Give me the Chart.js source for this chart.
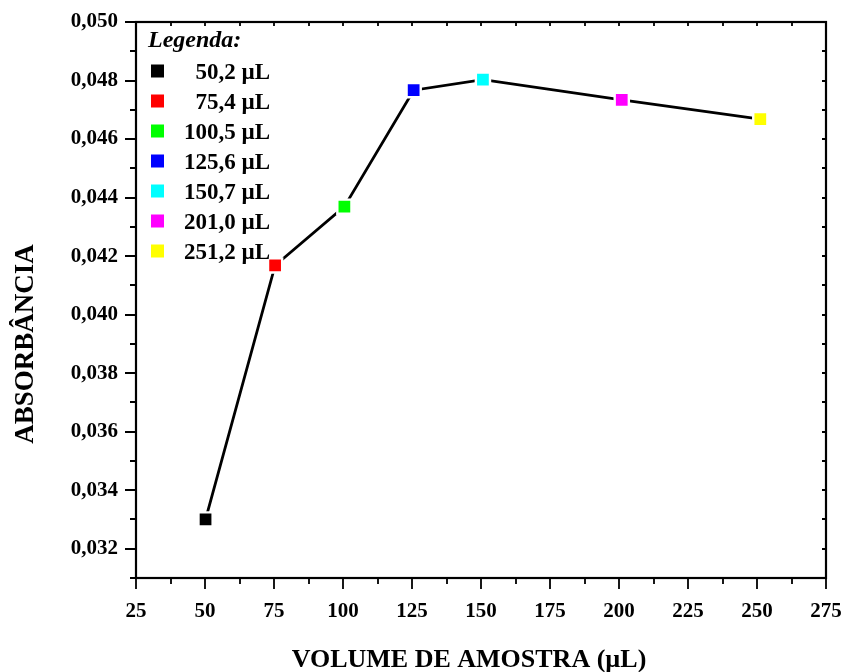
<!DOCTYPE html>
<html><head><meta charset="utf-8">
<script src="https://cdn.jsdelivr.net/npm/chart.js@4"></script>
<style>html,body{margin:0;padding:0;background:#fff;}</style>
</head><body>
<canvas id="c" width="846" height="672"></canvas>
<script>
// ---- data ----
const volumes = [50.2, 75.4, 100.5, 125.6, 150.7, 201.0, 251.2];
const absorbance = [0.0330, 0.04168, 0.04369, 0.04767, 0.04803, 0.04734, 0.04668];
const legendLabels = ['50,2 µL', '75,4 µL', '100,5 µL', '125,6 µL', '150,7 µL', '201,0 µL', '251,2 µL'];
const pointColors = ['#000000', '#ff0000', '#00ff00', '#0000ff', '#00ffff', '#ff00ff', '#ffff00'];
const xMajorTicks = [25, 50, 75, 100, 125, 150, 175, 200, 225, 250, 275];
const yMajorTicks = [0.032, 0.034, 0.036, 0.038, 0.040, 0.042, 0.044, 0.046, 0.048, 0.050];
const xTitle = 'VOLUME DE AMOSTRA (µL)';
const yTitle = 'ABSORBÂNCIA';
const legendTitle = 'Legenda:';

const FONT = '"Liberation Serif", "Times New Roman", serif';

const decor = {
  id: 'decor',
  afterDraw(chart) {
    const { ctx, chartArea: a, scales: { x, y } } = chart;
    ctx.save();
    // frame
    ctx.strokeStyle = '#000';
    ctx.lineWidth = 2.2;
    ctx.strokeRect(a.left, a.top, a.right - a.left, a.bottom - a.top);
    // ticks (major + minor midpoints)
    ctx.lineWidth = 1.8;
    ctx.beginPath();
    const xs = [];
    xMajorTicks.forEach((v, i) => {
      xs.push([v, true]);
      if (i < xMajorTicks.length - 1) xs.push([(v + xMajorTicks[i + 1]) / 2, false]);
    });
    xs.forEach(([v, major]) => {
      const px = Math.round(x.getPixelForValue(v));
      ctx.moveTo(px, a.bottom); ctx.lineTo(px, a.bottom + (major ? 11 : 6));
      ctx.moveTo(px, a.top); ctx.lineTo(px, a.top + 4);
    });
    const ys = [[y.min, false]];
    yMajorTicks.forEach((v, i) => {
      ys.push([v, true]);
      if (i < yMajorTicks.length - 1) ys.push([(v + yMajorTicks[i + 1]) / 2, false]);
    });
    ys.forEach(([v, major]) => {
      const py = Math.round(y.getPixelForValue(v));
      ctx.moveTo(a.left, py); ctx.lineTo(a.left - (major ? 11 : 6), py);
      ctx.moveTo(a.right, py); ctx.lineTo(a.right - 4, py);
    });
    ctx.stroke();

    // legend
    ctx.fillStyle = '#000';
    ctx.font = 'italic bold 24px ' + FONT;
    ctx.textAlign = 'left';
    ctx.textBaseline = 'alphabetic';
    ctx.fillText(legendTitle, 148, 47);
    ctx.font = 'bold 23px ' + FONT;
    ctx.textAlign = 'right';
    legendLabels.forEach((lab, i) => {
      const cy = 71 + 30 * i;
      ctx.fillStyle = pointColors[i];
      ctx.fillRect(151, cy - 6.5, 13, 13);
      ctx.fillStyle = '#000';
      ctx.fillText(lab, 270, cy + 7.5);
    });

    // axis titles
    ctx.font = 'bold 26px ' + FONT;
    ctx.textAlign = 'center';
    ctx.fillText(xTitle, 469, 667);
    ctx.save();
    ctx.translate(33, 344);
    ctx.rotate(-Math.PI / 2);
    ctx.font = 'bold 27px ' + FONT;
    ctx.fillText(yTitle, 0, 0);
    ctx.restore();
    ctx.restore();
  }
};

new Chart(document.getElementById('c'), {
  type: 'line',
  data: {
    datasets: [{
      data: volumes.map((v, i) => ({ x: v, y: absorbance[i] })),
      borderColor: '#000',
      borderWidth: 2.8,
      tension: 0,
      fill: false,
      pointStyle: 'rect',
      pointRadius: 10,
      pointBackgroundColor: pointColors,
      pointBorderColor: '#ffffff',
      pointBorderWidth: 2.4
    }]
  },
  options: {
    responsive: false,
    animation: false,
    devicePixelRatio: 1,
    layout: { padding: { top: 22, right: 20, left: 0, bottom: 0 } },
    plugins: { legend: { display: false }, tooltip: { enabled: false } },
    scales: {
      x: {
        type: 'linear', min: 25, max: 275,
        afterBuildTicks: s => { s.ticks = xMajorTicks.map(v => ({ value: v })); },
        afterFit: s => { s.height = 94; s.paddingLeft = 0; s.paddingRight = 0; },
        grid: { display: false, drawTicks: false },
        border: { display: false },
        ticks: {
          padding: 21, color: '#000', maxRotation: 0, autoSkip: false,
          font: { family: FONT, size: 21, weight: 'bold' },
          callback: v => String(v)
        }
      },
      y: {
        type: 'linear', min: 0.031, max: 0.050,
        afterBuildTicks: s => { s.ticks = yMajorTicks.map(v => ({ value: v })); },
        afterFit: s => { s.width = 136; s.paddingTop = 0; s.paddingBottom = 0; },
        grid: { display: false, drawTicks: false },
        border: { display: false },
        ticks: {
          padding: 18, color: '#000', autoSkip: false,
          font: { family: FONT, size: 21, weight: 'bold' },
          callback: v => Number(v).toFixed(3).replace('.', ',')
        }
      }
    }
  },
  plugins: [decor]
});
</script>
</body></html>
